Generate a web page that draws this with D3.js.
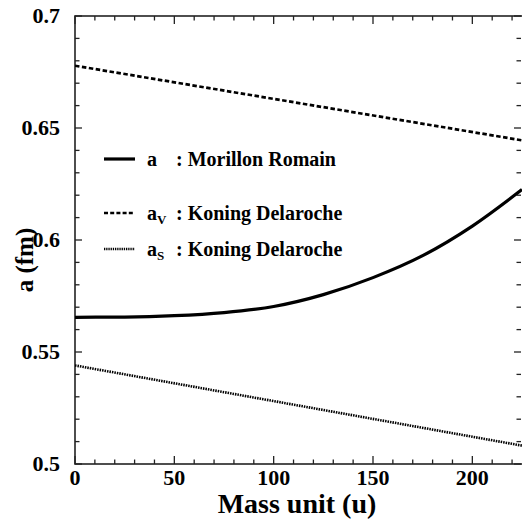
<!DOCTYPE html>
<html>
<head>
<meta charset="utf-8">
<script src="https://cdn.jsdelivr.net/npm/d3@7"></script>
<style>
  body { margin: 0; background: #fff; }
</style>
</head>
<body>
<svg id="chart" width="522" height="520" font-family="'Liberation Serif', 'Times New Roman', serif" font-weight="bold"></svg>
<script>
'use strict';

// mass unit A
var massA = [0, 25, 50, 75, 100, 125, 150, 175, 200, 225];
// diffuseness, Morillon-Romain
var aMR = [0.5655, 0.5656, 0.5662, 0.5676, 0.5703, 0.5756, 0.5832, 0.5930, 0.6062, 0.6225];
// volume / surface diffuseness, Koning-Delaroche (linear)
var ktA = [0, 225];
var aV = [0.6778, 0.6445];
var aS = [0.5440, 0.5082];

var xTicks = [0, 50, 100, 150, 200];
var yTicks = [0.5, 0.55, 0.6, 0.65, 0.7];

var svg = d3.select('#chart');

var margin = {left: 75, top: 16, right: 522, bottom: 464};

var x = d3.scaleLinear().domain([0, 225]).range([margin.left, margin.right]);
var y = d3.scaleLinear().domain([0.5, 0.7]).range([margin.bottom, margin.top]);

var frame = svg.append('g').attr('class', 'frame');

// minor ticks
var xMinor = d3.range(0, 226, 10).filter(function(d) { return d % 50 !== 0; });
var yMinor = d3.range(0, 21).map(function(i) { return +(0.5 + i * 0.01).toFixed(2); })
    .filter(function(d) { return yTicks.indexOf(d) === -1; });

function drawTicks(g, vals, len) {
    vals.forEach(function(v) {
        g.append('line')
            .attr('x1', x(v)).attr('x2', x(v))
            .attr('y1', margin.bottom).attr('y2', margin.bottom - len);
        g.append('line')
            .attr('x1', x(v)).attr('x2', x(v))
            .attr('y1', margin.top).attr('y2', margin.top + len);
    });
}
function drawYTicks(g, vals, len) {
    vals.forEach(function(v) {
        g.append('line')
            .attr('x1', margin.left).attr('x2', margin.left + len)
            .attr('y1', y(v)).attr('y2', y(v));
        g.append('line')
            .attr('x1', margin.right - 1).attr('x2', margin.right - 1 - len)
            .attr('y1', y(v)).attr('y2', y(v));
    });
}

var ticks = frame.append('g').attr('stroke', '#222').attr('stroke-width', 1.3);
drawTicks(ticks, xTicks, 8);
drawTicks(ticks, xMinor, 4.5);
drawYTicks(ticks, yTicks, 7);
drawYTicks(ticks, yMinor, 4.5);

frame.append('rect')
    .attr('x', margin.left).attr('y', margin.top)
    .attr('width', margin.right - margin.left + 5)
    .attr('height', margin.bottom - margin.top)
    .attr('fill', 'none').attr('stroke', '#222').attr('stroke-width', 1.6);

// tick labels
frame.selectAll('.xlab').data(xTicks).enter().append('text')
    .attr('class', 'xlab')
    .attr('x', function(d) { return x(d); })
    .attr('y', 485)
    .attr('text-anchor', 'middle')
    .attr('font-size', 22)
    .text(function(d) { return String(d); });

frame.selectAll('.ylab').data(yTicks).enter().append('text')
    .attr('class', 'ylab')
    .attr('x', 60)
    .attr('y', function(d) { return y(d) + 7; })
    .attr('text-anchor', 'end')
    .attr('font-size', 22)
    .text(function(d) { return String(d); });

// axis titles
svg.append('text')
    .attr('x', 297).attr('y', 513)
    .attr('text-anchor', 'middle')
    .attr('font-size', 28)
    .text('Mass unit (u)');

svg.append('text')
    .attr('transform', 'translate(33,260) rotate(-90)')
    .attr('text-anchor', 'middle')
    .attr('font-size', 25)
    .text('a (fm)');

// curves
svg.append('clipPath').attr('id', 'plotclip')
    .append('rect')
    .attr('x', margin.left).attr('y', margin.top)
    .attr('width', margin.right - margin.left)
    .attr('height', margin.bottom - margin.top);

var plot = svg.append('g').attr('clip-path', 'url(#plotclip)');

var line = d3.line()
    .x(function(d) { return x(d[0]); })
    .y(function(d) { return y(d[1]); })
    .curve(d3.curveMonotoneX);

plot.append('path')
    .datum(d3.zip(massA, aMR))
    .attr('d', line)
    .attr('fill', 'none').attr('stroke', '#000').attr('stroke-width', 3.2);

plot.append('path')
    .datum(d3.zip(ktA, aV))
    .attr('d', line)
    .attr('fill', 'none').attr('stroke', '#000').attr('stroke-width', 2.7)
    .attr('stroke-dasharray', '4.5,2.5');

plot.append('path')
    .datum(d3.zip(ktA, aS))
    .attr('d', line)
    .attr('fill', 'none').attr('stroke', '#000').attr('stroke-width', 2.6)
    .attr('stroke-dasharray', '1.5,1');

// legend
var legend = svg.append('g').attr('class', 'legend');
var legendRows = [
    {y: 159, dash: null, sub: '', label: 'Morillon Romain'},
    {y: 213, dash: '4,2.2', sub: 'V', label: 'Koning Delaroche'},
    {y: 249, dash: '1.3,0.9', sub: 'S', label: 'Koning Delaroche'}
];

legendRows.forEach(function(r) {
    legend.append('line')
        .attr('x1', 104).attr('x2', 135)
        .attr('y1', r.y).attr('y2', r.y)
        .attr('stroke', '#000').attr('stroke-width', r.dash ? 2.6 : 3.2)
        .attr('stroke-dasharray', r.dash);
    var t = legend.append('text')
        .attr('x', 147).attr('y', r.y + 7)
        .attr('font-size', 20);
    t.append('tspan').text('a');
    if(r.sub) {
        t.append('tspan').attr('dy', 4).attr('font-size', 13).text(r.sub);
    }
    legend.append('text')
        .attr('x', 176).attr('y', r.y + 7)
        .attr('font-size', 20)
        .text(': ' + r.label);
});
</script>
</body>
</html>
